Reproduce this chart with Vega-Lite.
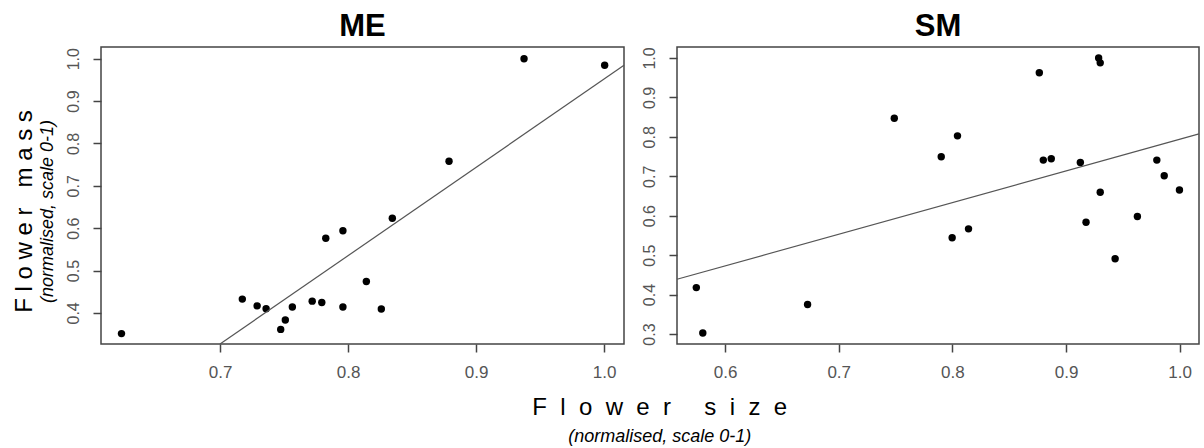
{
  "$schema": "https://vega.github.io/schema/vega-lite/v6.json",
  "padding": {"left": 13, "right": 0, "top": 10, "bottom": 0},
  "background": "white",
  "datasets": {
    "me": [
      {"size": 0.623, "mass": 0.351},
      {"size": 0.7174, "mass": 0.4325},
      {"size": 0.729, "mass": 0.4166},
      {"size": 0.736, "mass": 0.41},
      {"size": 0.7474, "mass": 0.361},
      {"size": 0.751, "mass": 0.383},
      {"size": 0.7565, "mass": 0.414},
      {"size": 0.772, "mass": 0.4277},
      {"size": 0.7795, "mass": 0.4244},
      {"size": 0.7826, "mass": 0.576},
      {"size": 0.796, "mass": 0.594},
      {"size": 0.796, "mass": 0.414},
      {"size": 0.8143, "mass": 0.474},
      {"size": 0.826, "mass": 0.409},
      {"size": 0.8346, "mass": 0.6234},
      {"size": 0.8789, "mass": 0.758},
      {"size": 0.9375, "mass": 1.0},
      {"size": 1.0005, "mass": 0.9845}
    ],
    "meLine": [
      {"size": 0.7, "mass": 0.3265},
      {"size": 1.0156, "mass": 0.9846}
    ],
    "sm": [
      {"size": 0.5747, "mass": 0.4177},
      {"size": 0.5804, "mass": 0.3025},
      {"size": 0.6726, "mass": 0.3747},
      {"size": 0.7489, "mass": 0.847},
      {"size": 0.7902, "mass": 0.7495},
      {"size": 0.7998, "mass": 0.544},
      {"size": 0.8045, "mass": 0.8025},
      {"size": 0.8142, "mass": 0.5667},
      {"size": 0.8765, "mass": 0.9624},
      {"size": 0.88, "mass": 0.741},
      {"size": 0.887, "mass": 0.7444},
      {"size": 0.9126, "mass": 0.735},
      {"size": 0.9176, "mass": 0.5836},
      {"size": 0.9287, "mass": 1.0},
      {"size": 0.9301, "mass": 0.9876},
      {"size": 0.9301, "mass": 0.6593},
      {"size": 0.9432, "mass": 0.491},
      {"size": 0.9628, "mass": 0.598},
      {"size": 0.9799, "mass": 0.741},
      {"size": 0.9864, "mass": 0.7015},
      {"size": 0.9998, "mass": 0.665}
    ],
    "smLine": [
      {"size": 0.5577, "mass": 0.4389},
      {"size": 1.017, "mass": 0.8076}
    ]
  },
  "title": {
    "text": "F\u00a0\u00a0l\u00a0\u00a0o\u00a0\u00a0w\u00a0\u00a0e\u00a0\u00a0r\u00a0\u00a0\u00a0\u00a0\u00a0s\u00a0\u00a0i\u00a0\u00a0z\u00a0\u00a0e",
    "subtitle": "(normalised, scale 0-1)",
    "orient": "bottom",
    "anchor": "middle",
    "font": "Liberation Sans",
    "fontSize": 24,
    "fontWeight": "normal",
    "color": "black",
    "subtitleFont": "Liberation Sans",
    "subtitleFontSize": 18,
    "subtitleFontStyle": "italic",
    "subtitleColor": "black",
    "subtitlePadding": 8,
    "offset": 15,
    "dx": 52
  },
  "spacing": 12,
  "hconcat": [
    {
      "title": {
        "text": "F\u00a0l\u00a0o\u00a0w\u00a0e\u00a0r\u00a0\u00a0\u00a0m\u00a0a\u00a0s\u00a0s",
        "subtitle": "(normalised, scale 0-1)",
        "orient": "left",
        "anchor": "middle",
        "font": "Liberation Sans",
        "fontSize": 24,
        "fontWeight": "normal",
        "color": "black",
        "subtitleFont": "Liberation Sans",
        "subtitleFontSize": 18,
        "subtitleFontStyle": "italic",
        "subtitleColor": "black",
        "subtitlePadding": 2,
        "offset": 7,
        "dx": -16
      },
      "hconcat": [
        {
          "width": 523,
          "height": 297,
          "title": {"text": "ME", "font": "Liberation Sans", "fontSize": 31, "fontWeight": "bold", "color": "black", "anchor": "middle", "offset": 4},
          "layer": [
            {
              "data": {"name": "me"},
              "mark": {"type": "circle", "color": "black", "size": 55, "opacity": 1},
              "encoding": {
                "x": {"field": "size", "type": "quantitative", "scale": {"domain": [0.607, 1.0156], "nice": false, "zero": false}, "axis": {"values": [0.7, 0.8, 0.9, 1.0], "format": ".1f", "title": null}},
                "y": {"field": "mass", "type": "quantitative", "scale": {"domain": [0.3265, 1.0277], "nice": false, "zero": false}, "axis": {"values": [0.4, 0.5, 0.6, 0.7, 0.8, 0.9, 1.0], "format": ".1f", "title": null}}
              }
            },
            {
              "data": {"name": "meLine"},
              "mark": {"type": "line", "color": "#555555", "strokeWidth": 1.2},
              "encoding": {
                "x": {"field": "size", "type": "quantitative"},
                "y": {"field": "mass", "type": "quantitative"}
              }
            }
          ]
        }
      ]
    },
    {
      "width": 522,
      "height": 297,
      "title": {"text": "SM", "font": "Liberation Sans", "fontSize": 31, "fontWeight": "bold", "color": "black", "anchor": "middle", "offset": 4},
      "layer": [
        {
          "data": {"name": "sm"},
          "mark": {"type": "circle", "color": "black", "size": 55, "opacity": 1},
          "encoding": {
            "x": {"field": "size", "type": "quantitative", "scale": {"domain": [0.5577, 1.017], "nice": false, "zero": false}, "axis": {"values": [0.6, 0.7, 0.8, 0.9, 1.0], "format": ".1f", "title": null}},
            "y": {"field": "mass", "type": "quantitative", "scale": {"domain": [0.2747, 1.0278], "nice": false, "zero": false}, "axis": {"values": [0.3, 0.4, 0.5, 0.6, 0.7, 0.8, 0.9, 1.0], "format": ".1f", "title": null}}
          }
        },
        {
          "data": {"name": "smLine"},
          "mark": {"type": "line", "color": "#555555", "strokeWidth": 1.2},
          "encoding": {
            "x": {"field": "size", "type": "quantitative"},
            "y": {"field": "mass", "type": "quantitative"}
          }
        }
      ]
    }
  ],
  "config": {
    "view": {"stroke": "#444444", "strokeWidth": 1.5},
    "axis": {
      "grid": false,
      "domain": false,
      "ticks": true,
      "tickColor": "#444444",
      "tickSize": 8,
      "tickWidth": 1.5,
      "labelFont": "Liberation Sans",
      "labelFontSize": 16,
      "labelColor": "#555555",
      "labelPadding": 8
    },
    "axisX": {"labelFontSize": 17, "labelPadding": 12},
    "axisY": {"labelAngle": -90, "labelPadding": 12}
  }
}
